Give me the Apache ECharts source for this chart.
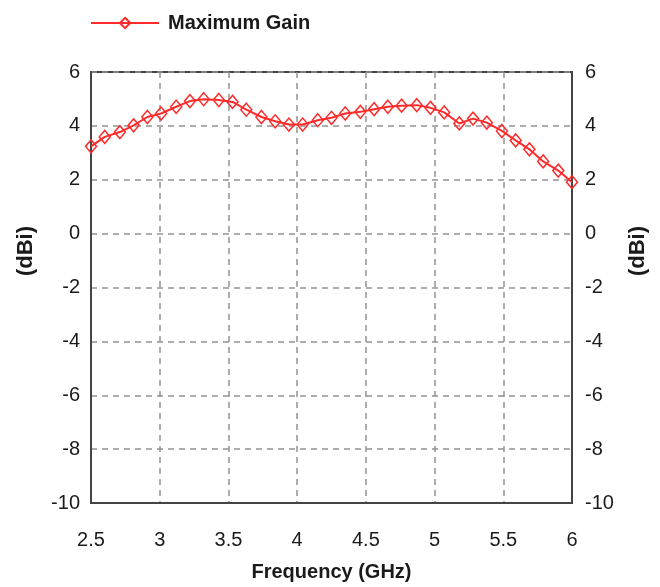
<!DOCTYPE html>
<html>
<head>
<meta charset="utf-8">
<script src="https://cdn.jsdelivr.net/npm/echarts@6/dist/echarts.min.js"></script>
<style>html,body{margin:0;padding:0;background:#fff}#c{width:660px;height:587px}</style>
</head>
<body>
<div id="c"></div>
<script>
const seriesName = 'Maximum Gain';
const freqGHz = [2.50, 2.60, 2.71, 2.81, 2.91, 3.01, 3.12, 3.22, 3.32, 3.43, 3.53, 3.63, 3.74, 3.84, 3.94, 4.04, 4.15, 4.25, 4.35, 4.46, 4.56, 4.66, 4.76, 4.87, 4.97, 5.07, 5.18, 5.28, 5.38, 5.49, 5.59, 5.69, 5.79, 5.90, 6.00];
const gainDBi = [3.24, 3.59, 3.77, 4.02, 4.33, 4.46, 4.71, 4.92, 4.99, 4.96, 4.89, 4.60, 4.33, 4.17, 4.05, 4.05, 4.21, 4.30, 4.46, 4.52, 4.62, 4.71, 4.75, 4.77, 4.67, 4.50, 4.09, 4.27, 4.12, 3.81, 3.46, 3.13, 2.68, 2.34, 1.91];
const xTitle = 'Frequency (GHz)';
const yTitle = '(dBi)';

const FONT = '"Liberation Sans", Arial, sans-serif';
const TXT = '#1a1a1a';
const RED = '#ff2a2a';

const chart = echarts.init(document.getElementById('c'), null, {renderer: 'canvas'});
const data = freqGHz.map((f, i) => [f, gainDBi[i]]);

const yAxisBase = {
  type: 'value', min: -10, max: 6, interval: 2,
  axisLine: {show: true, onZero: false, lineStyle: {color: '#444', width: 2}},
  axisTick: {show: false},
  axisLabel: {color: TXT, fontFamily: FONT, fontSize: 20}
};

chart.setOption({
  animation: false,
  backgroundColor: '#fff',
  legend: {
    left: 85, top: 8,
    itemWidth: 68, itemHeight: 13, itemGap: 10,
    textStyle: {color: TXT, fontFamily: FONT, fontSize: 20, fontWeight: 'bold', padding: [0, 0, 0, 4]},
    data: [seriesName]
  },
  grid: {left: 91, right: 88, top: 72, bottom: 84, show: true, borderColor: '#444', borderWidth: 2, containLabel: false},
  xAxis: {
    type: 'value', min: 2.5, max: 6, interval: 0.5,
    name: xTitle, nameLocation: 'middle', nameGap: 59,
    nameTextStyle: {color: TXT, fontFamily: FONT, fontSize: 20, fontWeight: 'bold'},
    axisLine: {show: true, onZero: false, lineStyle: {color: '#444', width: 2}},
    axisTick: {show: false},
    axisLabel: {color: TXT, fontFamily: FONT, fontSize: 20, margin: 27},
    splitLine: {show: true, lineStyle: {color: '#929292', type: [6, 5], width: 1.5}}
  },
  yAxis: [
    Object.assign({}, yAxisBase, {
      position: 'left',
      axisLabel: Object.assign({}, yAxisBase.axisLabel, {margin: 11}),
      splitLine: {show: true, lineStyle: {color: '#929292', type: [6, 5], width: 1.5}}
    }),
    Object.assign({}, yAxisBase, {
      position: 'right',
      axisLabel: Object.assign({}, yAxisBase.axisLabel, {margin: 13}),
      splitLine: {show: false}
    })
  ],
  graphic: [
    {type: 'text', left: 15, top: 226, rotation: Math.PI / 2,
      style: {text: yTitle, fill: TXT, font: 'bold 22px ' + FONT}},
    {type: 'text', left: 627, top: 226, rotation: Math.PI / 2,
      style: {text: yTitle, fill: TXT, font: 'bold 22px ' + FONT}}
  ],
  series: [{
    name: seriesName,
    type: 'line',
    yAxisIndex: 0,
    data: data,
    symbol: 'diamond',
    symbolSize: [11, 13],
    showAllSymbol: true,
    lineStyle: {color: RED, width: 2},
    itemStyle: {color: 'rgba(255,255,255,0)', borderColor: RED, borderWidth: 1.5}
  }]
});
</script>
</body>
</html>
